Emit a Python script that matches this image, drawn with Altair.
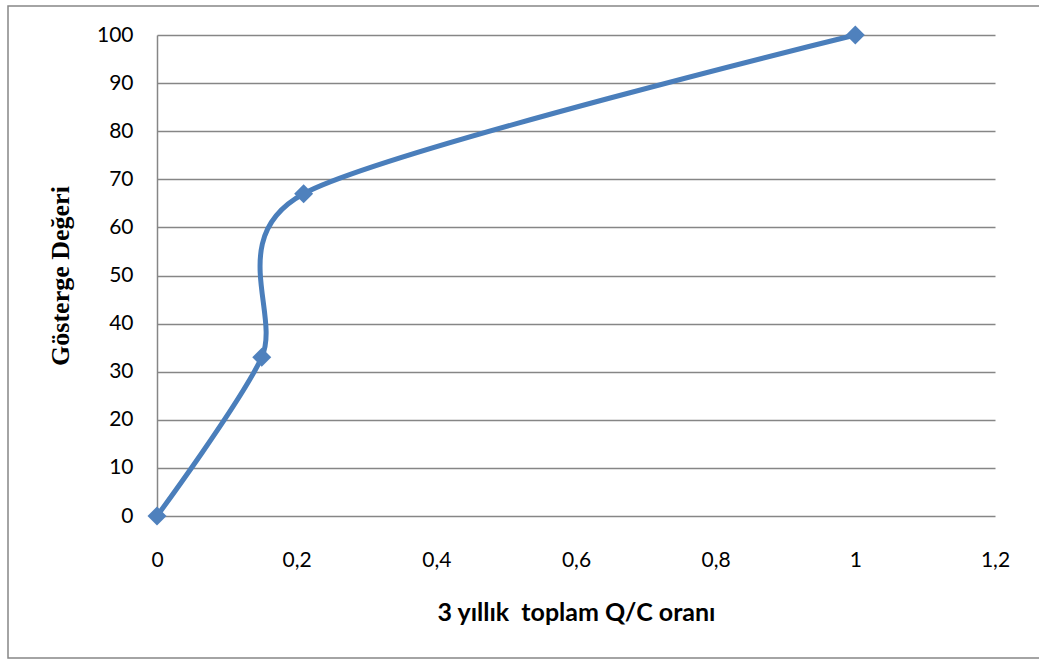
import altair as alt
import pandas as pd

# Data
qc_ratio = [0, 0.15, 0.21, 1]
indicator = [0, 33, 67, 100]
x_ticks = [0, 0.2, 0.4, 0.6, 0.8, 1.0, 1.2]
y_ticks = [0, 10, 20, 30, 40, 50, 60, 70, 80, 90, 100]

df = pd.DataFrame({"x": qc_ratio, "y": indicator, "i": list(range(len(qc_ratio)))})

W, H = 838, 481
LEFT, TOP = 157, 35

x_enc = alt.X(
    "x:Q",
    scale=alt.Scale(domain=[0, 1.2], nice=False, zero=False),
    axis=alt.Axis(
        values=x_ticks,
        title="3 yıllık\u00a0 toplam Q/C oranı",
        titleFont="Lato",
        titleFontSize=25,
        titleFontWeight="bold",
        titleColor="#000000",
        titleBaseline="middle",
        titleY=96,
        labelFont="Lato",
        labelFontSize=21,
        labelColor="#000000",
        labelPadding=33,
        labelExpr="replace(format(datum.value, '~g'), '.', ',')",
        ticks=False,
        domain=False,
        grid=False,
        labelFlush=False,
    ),
)
y_enc = alt.Y(
    "y:Q",
    scale=alt.Scale(domain=[0, 100], nice=False),
    axis=alt.Axis(
        values=y_ticks,
        title="Gösterge Değeri",
        titleFont="Liberation Serif",
        titleFontSize=26,
        titleFontWeight="bold",
        titleColor="#000000",
        titleAngle=270,
        titleBaseline="middle",
        titleX=-97,
        titleY=H / 2,
        labelFont="Lato",
        labelFontSize=21,
        labelColor="#000000",
        labelPadding=24,
        ticks=False,
        domain=True,
        domainColor="#868686",
        domainWidth=1.5,
        grid=True,
        gridColor="#868686",
        gridWidth=1.5,
    ),
)

line = alt.Chart(df).mark_line(
    interpolate="cardinal", tension=0.2, color="#4A7EBB", strokeWidth=5
).encode(x=x_enc, y=y_enc, order="i:O")

points = alt.Chart(df).mark_point(
    shape="diamond", filled=True, size=360, color="#4F81BD", opacity=1
).encode(x="x:Q", y="y:Q")

border = alt.Chart(pd.DataFrame({"b": [0]})).mark_rect(
    fill=None, stroke="#878787", strokeWidth=1.5
).encode(
    x=alt.value(8 - LEFT),
    x2=alt.value(1041 - LEFT),
    y=alt.value(6 - TOP),
    y2=alt.value(658 - TOP),
)

chart = alt.layer(border, line, points).properties(
    width=W,
    height=H,
    autosize=alt.AutoSizeParams(type="none"),
    padding={"left": LEFT, "top": TOP, "right": 1039 - LEFT - W, "bottom": 660 - TOP - H},
    background="#FFFFFF",
).configure_view(stroke=None)

chart.save("out.html", embed_options={"renderer": "svg", "actions": False})
